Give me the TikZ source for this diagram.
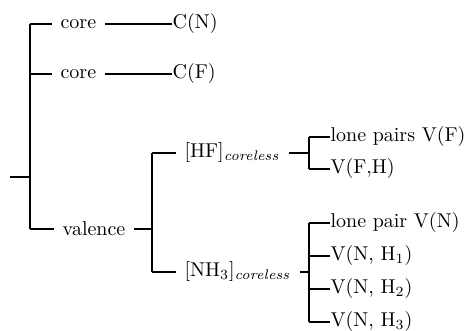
\documentclass[tikz,border=0pt]{standalone}
\usepackage{amsmath}
\usepackage{tikz}
\usetikzlibrary{positioning}
\tikzset{
  lbl/.style={anchor=west, inner xsep=4pt, inner ysep=0pt},
  leaf/.style={anchor=west, inner sep=0pt},
  branch/.style={line width=0.6pt}
}
\begin{document}
\begin{tikzpicture}[x=0.5pt, y=-0.5pt, branch]
 \useasboundingbox (0,0) rectangle (468,331);
 % junctions of the tree
 \coordinate (root) at (10,177);
 \coordinate (j0) at (30,177);
 \coordinate (j1) at (152,229);
 \coordinate (j2) at (309,153);
 \coordinate (j3) at (309,272);
\node[lbl] (core1) at (52,24) {core};
\node[lbl] (core2) at (52,74) {core};
\node[lbl] (val) at (54,229) {valence};
\node[leaf] (cn) at (172,24) {C(N)};
\node[leaf] (cf) at (172,74) {C(F)};
\node[lbl] (hf) at (176,153) {$[\mathrm{HF}]_{\mathit{coreless}}$};
\node[lbl] (nh) at (176,272) {$[\mathrm{NH}_3]_{\mathit{coreless}}$};
\node[leaf] (lpf) at (330,137) {lone pairs V(F)};
\node[leaf] (vfh) at (330,169) {V(F,H)};
\node[leaf] (lpn) at (330,223) {lone pair V(N)};
\node[leaf] (vn1) at (330,256) {V(N, H$_1$)};
\node[leaf] (vn2) at (330,289) {V(N, H$_2$)};
\node[leaf] (vn3) at (330,322) {V(N, H$_3$)};
 % root level
\draw (root) -- (j0);
\draw (j0 |- core1.west) -- (j0 |- val.west);
\draw (j0 |- core1.west) -- (core1.west);
\draw (j0 |- core2.west) -- (core2.west);
\draw (j0 |- val.west) -- (val.west);
\draw (core1.east) -- (cn.west);
\draw (core2.east) -- (cf.west);
 % valence part
\draw (val.east) -- (j1);
\draw (j1 |- hf.west) -- (j1 |- nh.west);
\draw (j1 |- hf.west) -- (hf.west);
\draw (j1 |- nh.west) -- (nh.west);
\draw (hf.east) -- (j2);
\draw (j2 |- lpf.west) -- (j2 |- vfh.west);
\draw (j2 |- lpf.west) -- (lpf.west);
\draw (j2 |- vfh.west) -- (vfh.west);
\draw (nh.east) -- (j3);
\draw (j3 |- lpn.west) -- (j3 |- vn3.west);
\foreach \n in {lpn,vn1,vn2,vn3}
  \draw (j3 |- \n.west) -- (\n.west);
\end{tikzpicture}
\end{document}
